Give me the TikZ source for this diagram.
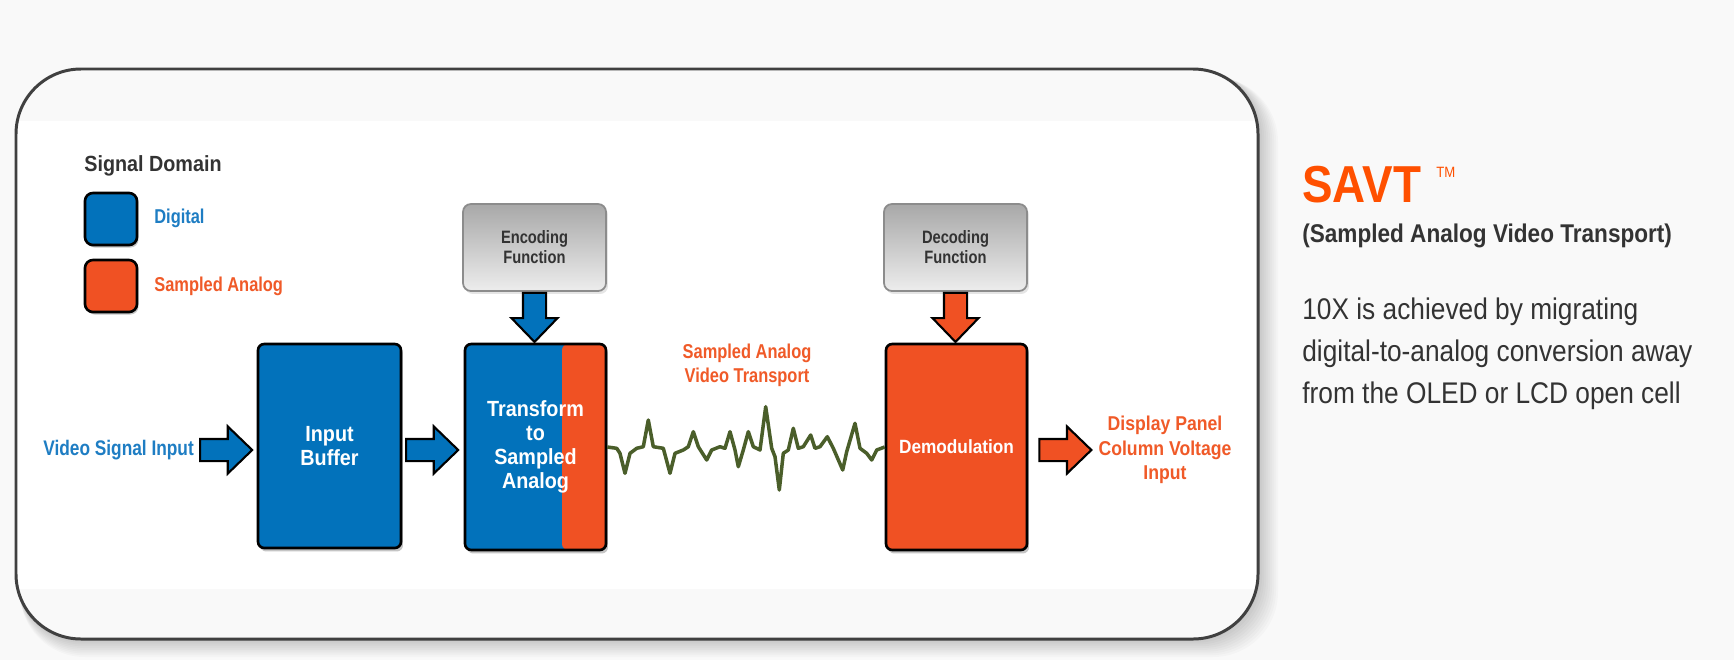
\documentclass[tikz,border=0pt]{standalone}
\usepackage{fontspec}
\setmainfont{Liberation Sans}
\newfontfamily\narrowfont{Liberation Sans}[FakeStretch=0.82]
\newfontfamily\boxfont{Liberation Sans}[FakeStretch=0.9]
\newfontfamily\sidefont{Liberation Sans}[FakeStretch=0.88]
\usetikzlibrary{positioning,shapes.arrows,shadows}

\definecolor{savtblue}{RGB}{2,114,187}
\definecolor{savtorange}{RGB}{240,81,35}
\definecolor{labelblue}{RGB}{30,125,195}
\definecolor{labelorange}{RGB}{240,90,40}
\definecolor{titleorange}{RGB}{255,80,0}
\definecolor{darktext}{RGB}{51,51,51}
\definecolor{pagebg}{RGB}{249,249,249}
\definecolor{framegray}{RGB}{64,64,64}
\definecolor{funcgray}{RGB}{140,140,140}
\definecolor{wavegreen}{RGB}{74,94,42}

\begin{document}
\begin{tikzpicture}[x=0.02cm, y=-0.02cm,
    block/.style={rectangle, draw=black, line width=1.5pt, rounded corners=3.5pt,
                  minimum width=2.82cm, minimum height=4.12cm,
                  text=white, align=center, inner sep=0pt,
                  font=\boxfont\bfseries\fontsize{12.5}{13.7}\selectfont,
                  drop shadow={shadow xshift=0.04cm, shadow yshift=-0.07cm,
                               opacity=0.45}},
    funcbox/.style={rectangle, draw=funcgray, line width=1pt, rounded corners=4.5pt,
                  minimum width=2.86cm, minimum height=1.74cm,
                  top color={rgb,255:red,168;green,168;blue,168},
                  bottom color={rgb,255:red,237;green,237;blue,237},
                  text=darktext, align=center, inner sep=0pt,
                  font=\narrowfont\bfseries\fontsize{10.2}{11.4}\selectfont,
                  drop shadow={shadow xshift=0.04cm, shadow yshift=-0.06cm,
                               opacity=0.2}},
    legendbox/.style={rectangle, draw=black, line width=1.5pt, rounded corners=4.5pt,
                  minimum width=1.04cm, minimum height=1.04cm, inner sep=0pt,
                  drop shadow={shadow xshift=0.03cm, shadow yshift=-0.05cm,
                               opacity=0.45}},
    blockarrow/.style={single arrow, draw=black, line width=1.2pt,
                  inner xsep=0pt, inner ysep=0.2cm,
                  single arrow head extend=0.25cm, single arrow tip angle=88,
                  minimum height=1.04cm},
    downarrow/.style={blockarrow, rotate=-90, anchor=west,
                  inner ysep=0.21cm, single arrow head extend=0.23cm,
                  minimum height=0.98cm},
    label/.style={font=\narrowfont\bfseries\fontsize{11.4}{13.7}\selectfont,
                  align=center, inner sep=0pt},
    sidetext/.style={font=\sidefont\fontsize{17}{23.8}\selectfont,
                  text=darktext, align=left, inner sep=0pt},
    wave/.style={wavegreen, line width=2pt, line join=round}
]
    % page and framed panel
    \fill[pagebg] (0,0) rectangle (1734,660);
    \foreach \i in {1,...,10}
        \fill[black, opacity=0.018, rounded corners=1.3cm]
            (16+0.4*\i,69+0.8*\i) rectangle (1258+2*\i,639+1.8*\i);
    \fill[pagebg, rounded corners=1.3cm] (16,69) rectangle (1258,639);
    \begin{scope}
        \clip[rounded corners=1.3cm] (16,69) rectangle (1258,639);
        \fill[white] (16,121) rectangle (1258,589);
    \end{scope}
    \draw[framegray, line width=1.7pt, rounded corners=1.3cm]
        (16,69) rectangle (1258,639);

    % legend
    \node[anchor=base west, text=darktext, inner sep=0pt,
        font=\boxfont\bfseries\fontsize{12.5}{14}\selectfont]
        (domain) at (84,171) {Signal Domain};
    \node[legendbox, fill=savtblue] (legdig) at (111,219) {};
    \node[legendbox, fill=savtorange] (legana) at (111,286) {};
    \node[label, anchor=base west, text=labelblue] (digtxt) at (154,223) {Digital};
    \node[label, anchor=base west, text=labelorange] (anatxt) at (154,291)
        {Sampled Analog};

    % main chain
    \node[block, minimum width=2.86cm, minimum height=4.08cm, fill=savtblue]
        (buf) at (329.5,446) {Input\\Buffer};
    \node[block, fill=savtblue,
        path picture={\fill[savtorange]
            ([xshift=-0.88cm]path picture bounding box.north east)
            rectangle (path picture bounding box.south east);}]
        (trans) at (535.5,447) {Transform\\to\\Sampled\\Analog};
    \node[block, fill=savtorange,
        font=\boxfont\bfseries\fontsize{10.9}{12}\selectfont]
        (demod) at (956.5,447) {Demodulation};

    \node[funcbox] (enc) at (534.5,247.5) {Encoding\\Function};
    \node[funcbox] (dec) at (955.5,247.5) {Decoding\\Function};

    % block arrows
    \node[blockarrow, fill=savtblue, anchor=east] (inarr)
        at ([xshift=-0.06cm, yshift=-0.08cm]buf.west) {};
    \node[blockarrow, fill=savtblue, anchor=east] (midarr)
        at ([xshift=-0.08cm, yshift=-0.06cm]trans.west) {};
    \node[blockarrow, fill=savtorange, anchor=west] (outarr)
        at ([xshift=0.2cm, yshift=-0.06cm]demod.east) {};
    \node[downarrow, fill=savtblue] (encarr) at (enc.south) {};
    \node[downarrow, fill=savtorange] (decarr) at (dec.south) {};

    % labels
    \node[label, text=labelblue, font=\narrowfont\bfseries\fontsize{12}{14}\selectfont,
        left=0.1cm of inarr] (vidin) {Video Signal Input};
    \node[label, text=labelorange] (transport) at (747,365)
        {Sampled Analog\\Video Transport};
    \node[label, text=labelorange, font=\sidefont\bfseries\fontsize{11.4}{14}\selectfont]
        (panel) at (1165,450) {Display Panel\\Column Voltage\\Input};

    % sampled analog waveform
    \draw[wave] (trans.east) -- (616.7,448.3) -- (620,453.3) -- (625,473.3)
        -- (630,453.3) -- (636.7,448.3) -- (643.3,446.7) -- (648.3,420)
        -- (653.3,446.7) -- (663.3,448.3) -- (670,473.3) -- (675,453.3)
        -- (683.3,450) -- (688.3,446.7) -- (693.3,431.7) -- (698.3,446.7)
        -- (706.7,460) -- (711.7,450) -- (720,446.7) -- (725,448.3)
        -- (730,431.7) -- (735,450) -- (738.3,466.7) -- (743.3,450)
        -- (748.3,431.7) -- (753.3,446.7) -- (760,450) -- (765.7,406.7)
        -- (771.7,448.3) -- (775,456.7) -- (779.3,490) -- (783.3,453.3)
        -- (788.3,450) -- (793.3,428.3) -- (798.3,448.3) -- (803.3,446.7)
        -- (810.7,435) -- (815,448.3) -- (820,446.7) -- (827.3,436.7)
        -- (833.3,448.3) -- (842.7,470) -- (846.7,451.7) -- (855,423.3)
        -- (860,448.3) -- (866.7,453.3) -- (871.7,460) -- (876.7,450)
        -- (demod.west);

    % side text
    \node[anchor=base west, inner sep=0pt, text=titleorange,
        font=\sidefont\bfseries\fontsize{29.6}{32}\selectfont]
        (savt) at (1302,202) {SAVT};
    \node[anchor=base west, inner sep=0pt, text=titleorange,
        font=\sidefont\fontsize{8.5}{9}\selectfont]
        (tm) at (1436,177) {TM};
    \node[anchor=base west, inner sep=0pt, text=darktext,
        font=\sidefont\bfseries\fontsize{14.6}{16}\selectfont]
        (subtitle) at (1302,242) {(Sampled Analog Video Transport)};
    \node[sidetext, anchor=base west] (desc) at (1302,403)
        {10X is achieved by migrating\\digital-to-analog conversion away\\from the OLED or LCD open cell};
\end{tikzpicture}
\end{document}
